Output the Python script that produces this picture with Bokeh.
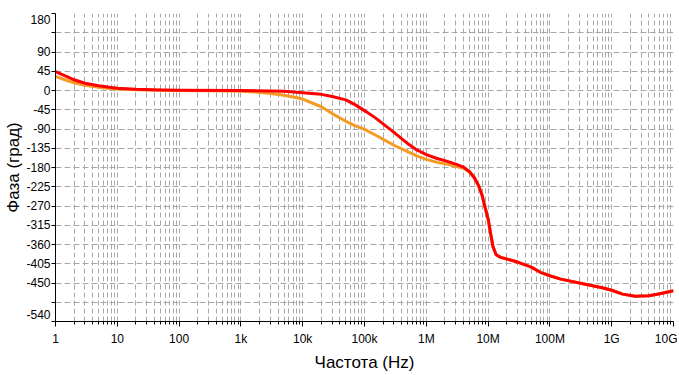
from bokeh.plotting import figure
from bokeh.models import FixedTicker, CustomJSTickFormatter, Range1d
from bokeh.embed import file_html
from bokeh.resources import INLINE

# ---- data ----
freq_red = [1, 1.5, 2, 3, 5, 7, 10, 20, 50, 100, 1e3, 3e3, 5e3, 1e4, 2e4, 3e4,
            5e4, 7e4, 1e5, 1.5e5, 2e5, 3e5, 5e5, 7e5, 1e6, 1.5e6, 2e6, 3e6, 4e6,
            5e6, 6e6, 7e6, 8e6, 9e6, 1e7, 1.1e7, 1.2e7, 1.35e7, 1.6e7, 2e7, 3e7,
            5e7, 7e7, 1e8, 1.5e8, 3e8, 7e8, 1e9, 1.5e9, 2.4e9, 4e9, 6e9, 1e10]
phase_red = [44, 33, 25, 17, 11, 8, 5.5, 2.8, 1, 0.5, 0, -1, -2, -5, -9, -14,
             -22, -33, -47, -64, -78, -98, -124, -139, -150, -159, -164, -172, -179,
             -190, -204, -222, -245, -275, -300, -335, -365, -384, -390, -394, -401,
             -413, -425, -433, -441, -450, -461, -467, -476, -481, -480, -475, -468]

freq_orange = [1, 1.5, 2, 3, 5, 7, 10, 20, 50, 100, 300, 600, 1e3, 2e3, 3e3, 5e3,
               7e3, 1e4, 2e4, 3e4, 5e4, 7e4, 1e5, 1.5e5, 2e5, 3e5, 5e5, 7e5, 1e6,
               1.5e6, 2e6, 3e6, 4e6, 5e6, 6e6, 7e6, 8e6, 9e6, 1e7, 1.1e7, 1.2e7,
               1.35e7, 1.6e7, 2e7, 3e7, 5e7, 7e7, 1e8, 1.5e8, 3e8, 7e8, 1e9, 1.5e9,
               2.4e9, 4e9, 6e9, 1e10]
phase_orange = [33, 24, 18, 12, 7.5, 5, 3.5, 1.5, 0.5, 0, -0.5, -1, -2, -4, -7, -11,
                -15, -20, -38, -54, -72, -82, -91, -104, -114, -128, -143, -153, -161,
                -168, -171, -177, -182, -190, -204, -222, -245, -275, -300, -335, -365,
                -384, -390, -394, -401, -413, -425, -433, -441, -450, -461, -467, -476,
                -481, -480, -475, -468]

x_tick_values = [1, 10, 100, 1e3, 1e4, 1e5, 1e6, 1e7, 1e8, 1e9, 1e10]
x_tick_labels = ["1", "10", "100", "1k", "10k", "100k", "1M", "10M", "100M", "1G", "10G"]
x_minor_multipliers = [2, 3, 4, 5, 6, 7, 8, 9]

y_tick_values = [180, 135, 90, 45, 0, -45, -90, -135, -180, -225, -270, -315,
                 -360, -405, -450, -495, -540]
y_hidden_labels = [135, -495]
y_top_label = 180      # drawn shifted down, as in the reference
y_bottom_label = -540  # drawn shifted up

x_label = "Частота (Hz)"
y_label = "Фаза (град)"

FONT = "Liberation Sans"
GRID = "#a8a8a8"

p = figure(width=677, height=374, x_axis_type="log",
           x_range=Range1d(1, 1e10), y_range=Range1d(-540, 180),
           output_backend="svg", toolbar_location=None,
           min_border_left=55, min_border_right=4, min_border_top=13,
           min_border_bottom=48)
p.outline_line_color = None
p.background_fill_color = "white"
p.border_fill_color = "white"

x_minor = [m * d for d in x_tick_values[:-1] for m in x_minor_multipliers]
p.xaxis.ticker = FixedTicker(ticks=x_tick_values, minor_ticks=x_minor)
p.xaxis.formatter = CustomJSTickFormatter(
    args=dict(vals=x_tick_values, labels=x_tick_labels),
    code="""
    const e = Math.round(Math.log10(tick));
    for (let i = 0; i < vals.length; i++) {
        if (Math.round(Math.log10(vals[i])) == e) return labels[i];
    }
    return "";
    """)
p.yaxis.ticker = FixedTicker(ticks=y_tick_values)
p.yaxis.formatter = CustomJSTickFormatter(
    args=dict(hidden=y_hidden_labels, top=y_top_label, bottom=y_bottom_label),
    code="""
    for (const h of hidden) { if (Math.abs(h - tick) < 1e-6) return ""; }
    const s = String(Math.round(tick));
    if (Math.abs(tick - top) < 1e-6) return "\\n" + s;
    if (Math.abs(tick - bottom) < 1e-6) return s + "\\n";
    return s;
    """)

for ax in (p.xaxis, p.yaxis):
    ax.axis_line_color = "black"
    ax.major_tick_line_color = "black"
    ax.minor_tick_line_color = "black"
    ax.major_tick_in = 0
    ax.minor_tick_in = 0
    ax.major_label_text_font = FONT
    ax.major_label_text_font_size = "12px"
    ax.major_label_text_color = "black"
    ax.axis_label_text_font = FONT
    ax.axis_label_text_font_size = "17px"
    ax.axis_label_text_font_style = "normal"
    ax.axis_label_text_color = "black"
    ax.axis_label_text_line_height = 1.0

p.xaxis.axis_label = x_label
p.xaxis.major_tick_out = 5
p.xaxis.minor_tick_out = 3
p.xaxis.major_label_standoff = 5
p.xaxis.major_label_text_line_height = 1.0
p.xaxis.axis_label_standoff = 4

p.yaxis.axis_label = y_label
p.yaxis.major_tick_out = 4
p.yaxis.minor_tick_line_color = None
p.yaxis.major_label_standoff = 1
p.yaxis.major_label_text_line_height = 0.9
p.yaxis.axis_label_standoff = 0

p.xgrid.grid_line_color = GRID
p.xgrid.grid_line_dash = "5 3"
p.xgrid.minor_grid_line_color = GRID
p.xgrid.minor_grid_line_dash = "5 3"
p.ygrid.grid_line_color = GRID
p.ygrid.grid_line_dash = "6 3"

p.line(freq_orange, phase_orange, line_color="#f59a23", line_width=3,
       line_join="round")
p.line(freq_red, phase_red, line_color="#ff0000", line_width=3,
       line_join="round")

open("out.html", "w").write(file_html(p, INLINE))
